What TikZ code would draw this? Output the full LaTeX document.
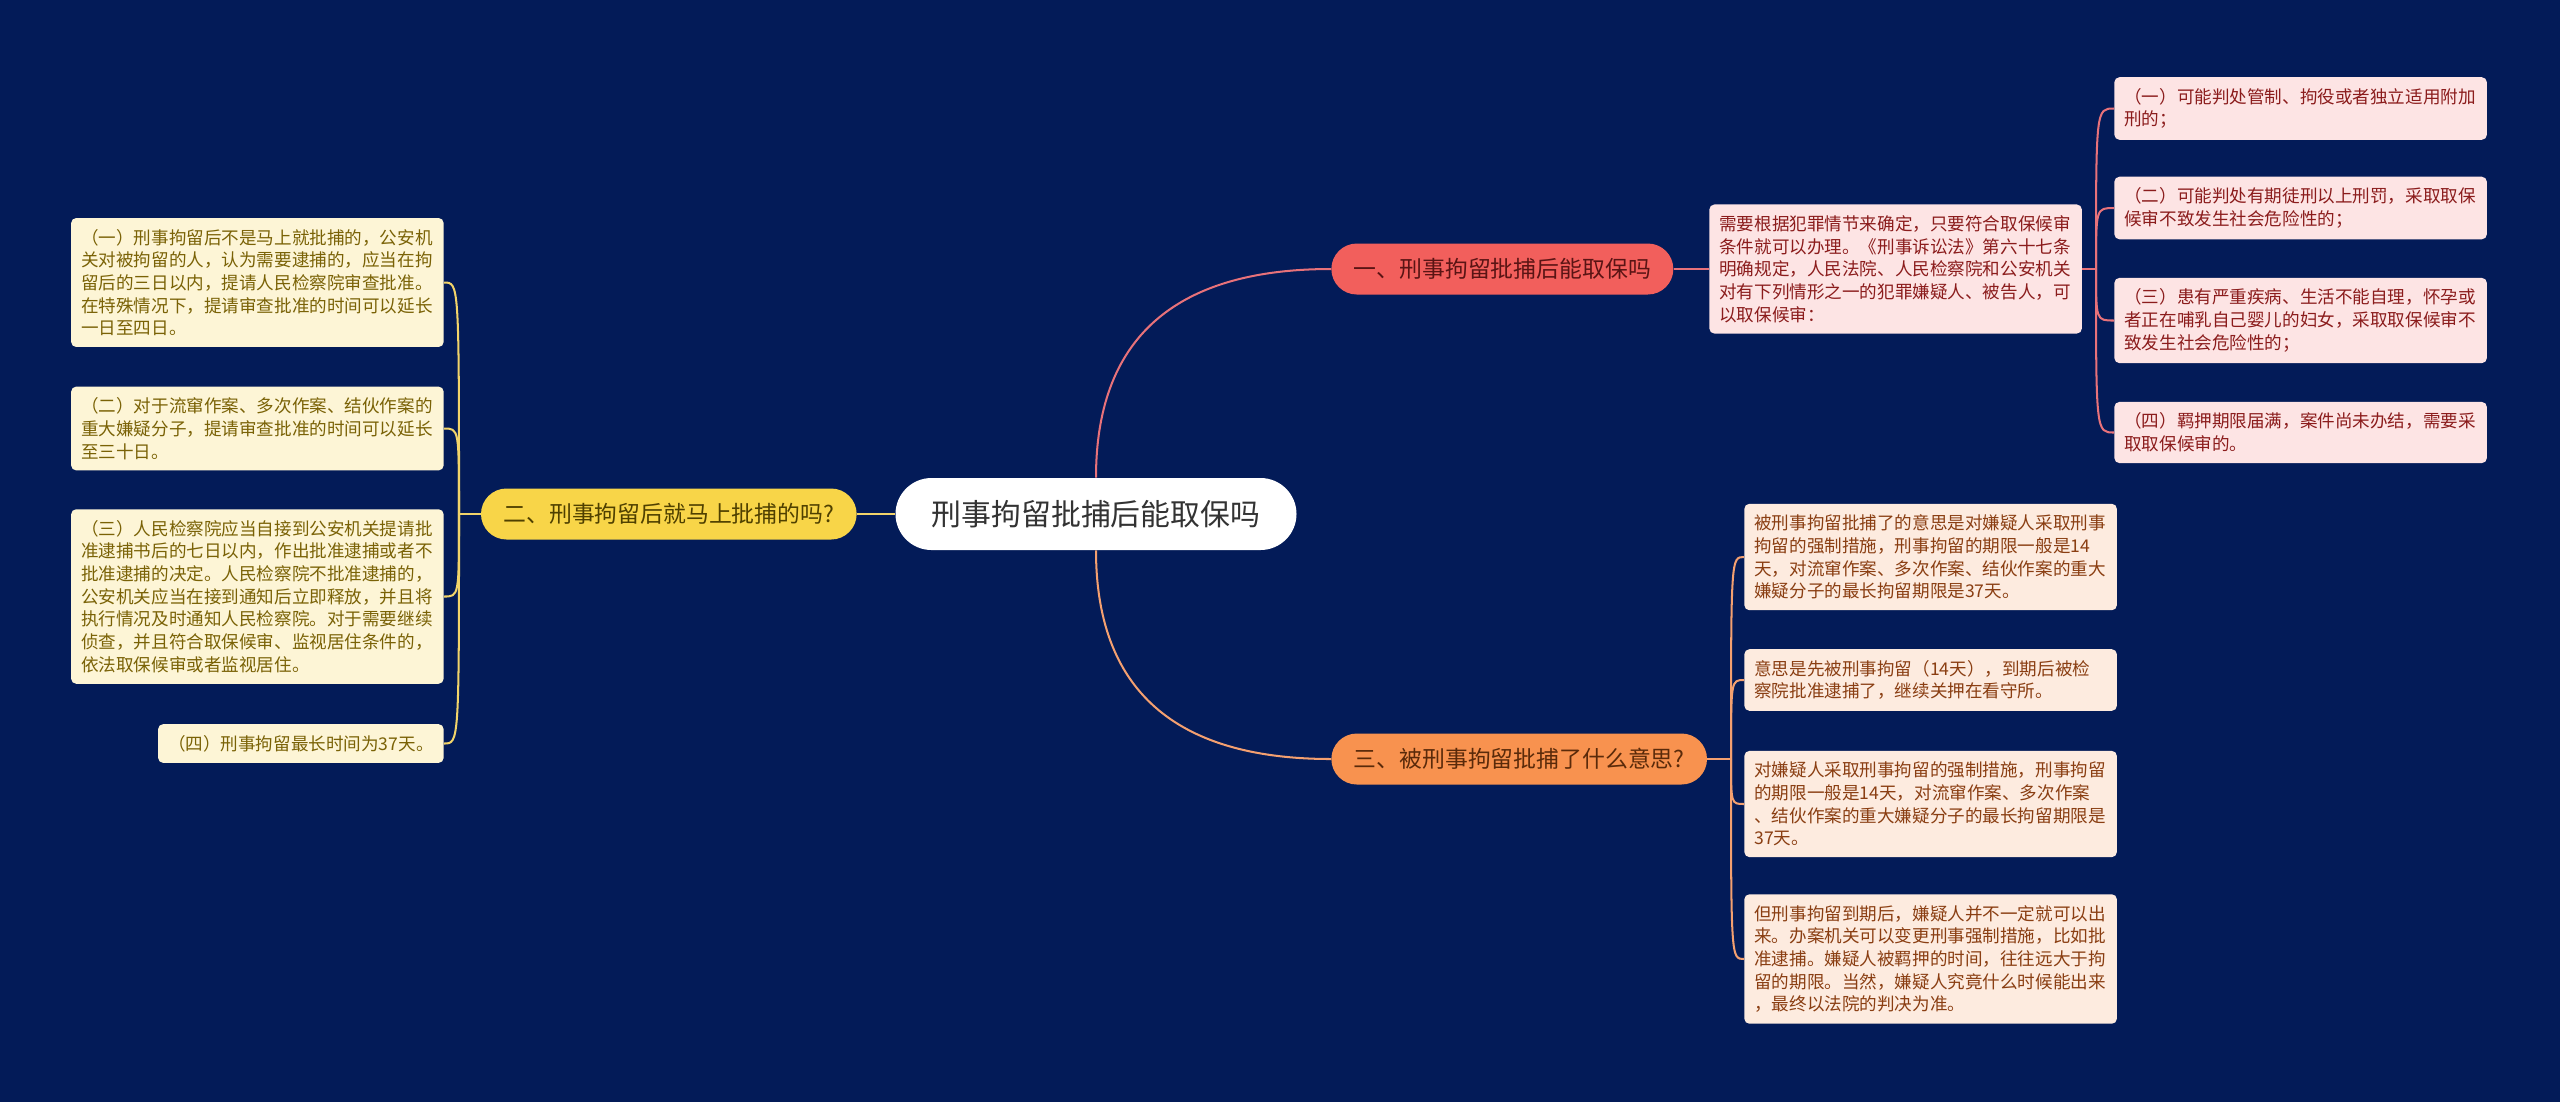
\documentclass[tikz,border=0pt]{standalone}
\usepackage{fontspec}
\usepackage{xcolor}
\usepackage{tikz}
\usetikzlibrary{positioning,calc}
\newfontfamily\cjk{Noto Sans CJK SC}
\definecolor{bgnavy}{HTML}{031B58}
\definecolor{rootink}{HTML}{333333}
\definecolor{redfill}{HTML}{F25F5C}
\definecolor{redink}{HTML}{5A1414}
\definecolor{redleaf}{HTML}{FDE4E4}
\definecolor{redtext}{HTML}{8B1C1C}
\definecolor{redline}{HTML}{E8727A}
\definecolor{yelfill}{HTML}{F8D548}
\definecolor{yelink}{HTML}{4F4000}
\definecolor{yelleaf}{HTML}{FDF5D6}
\definecolor{yeltext}{HTML}{7A6206}
\definecolor{yelline}{HTML}{F2D46A}
\definecolor{orgfill}{HTML}{F8924F}
\definecolor{orgink}{HTML}{5A2A0A}
\definecolor{orgleaf}{HTML}{FDEBDF}
\definecolor{orgtext}{HTML}{8A3E12}
\definecolor{orgline}{HTML}{F4A070}
\tikzset{
  maproot/.style={fill=white, text=rootink, rounded corners=0.72cm, minimum width=8.02cm, minimum height=1.44cm, font=\cjk\fontsize{17pt}{20pt}\selectfont},
  mapbranch/.style={rounded corners=0.51cm, minimum height=1.02cm, inner xsep=0.45cm, font=\cjk\fontsize{13pt}{15pt}\selectfont},
  mapleaf/.style={rounded corners=0.1cm, text width=7.05cm, inner xsep=0.2cm, inner ysep=0.22cm, align=left, font=\cjk\fontsize{10pt}{12.9pt}\selectfont},
  maplink/.style={line width=1.15pt}
}
\begin{document}
\begin{tikzpicture}
\fill[bgnavy] (0,0) rectangle (51.2,-22.04);
\useasboundingbox (0,0) rectangle (51.2,-22.04);
% centre and main branches
\node[maproot] (root) at (21.92,-10.28) {刑事拘留批捕后能取保吗};
\node[mapbranch, fill=redfill, text=redink, anchor=west] (br1) at (26.62,-5.38) {一、刑事拘留批捕后能取保吗};
\node[mapbranch, fill=yelfill, text=yelink, anchor=east] (br2) at (17.14,-10.28) {二、刑事拘留后就马上批捕的吗?};
\node[mapbranch, fill=orgfill, text=orgink, anchor=west] (br3) at (26.62,-15.18) {三、被刑事拘留批捕了什么意思?};
% branch one
\node[mapleaf, fill=redleaf, text=redtext, anchor=west] (atext) at (34.18,-5.38) {需要根据犯罪情节来确定，只要符合取保候审\\条件就可以办理。《刑事诉讼法》第六十七条\\明确规定，人民法院、人民检察院和公安机关\\对有下列情形之一的犯罪嫌疑人、被告人，可\\以取保候审：};
\node[mapleaf, fill=redleaf, text=redtext, anchor=west] (a1) at (42.28,-2.17) {（一）可能判处管制、拘役或者独立适用附加\\刑的；};
\node[mapleaf, fill=redleaf, text=redtext, anchor=west] (a2) at (42.28,-4.16) {（二）可能判处有期徒刑以上刑罚，采取取保\\候审不致发生社会危险性的；};
\node[mapleaf, fill=redleaf, text=redtext, anchor=west] (a3) at (42.28,-6.41) {（三）患有严重疾病、生活不能自理，怀孕或\\者正在哺乳自己婴儿的妇女，采取取保候审不\\致发生社会危险性的；};
\node[mapleaf, fill=redleaf, text=redtext, anchor=west] (a4) at (42.28,-8.65) {（四）羁押期限届满，案件尚未办结，需要采\\取取保候审的。};
% branch two
\node[mapleaf, fill=yelleaf, text=yeltext, anchor=east] (b1) at (8.88,-5.65) {（一）刑事拘留后不是马上就批捕的，公安机\\关对被拘留的人，认为需要逮捕的，应当在拘\\留后的三日以内，提请人民检察院审查批准。\\在特殊情况下，提请审查批准的时间可以延长\\一日至四日。};
\node[mapleaf, fill=yelleaf, text=yeltext, anchor=east] (b2) at (8.88,-8.57) {（二）对于流窜作案、多次作案、结伙作案的\\重大嫌疑分子，提请审查批准的时间可以延长\\至三十日。};
\node[mapleaf, fill=yelleaf, text=yeltext, anchor=east] (b3) at (8.88,-11.93) {（三）人民检察院应当自接到公安机关提请批\\准逮捕书后的七日以内，作出批准逮捕或者不\\批准逮捕的决定。人民检察院不批准逮捕的，\\公安机关应当在接到通知后立即释放，并且将\\执行情况及时通知人民检察院。对于需要继续\\侦查，并且符合取保候审、监视居住条件的，\\依法取保候审或者监视居住。};
\node[mapleaf, fill=yelleaf, text=yeltext, anchor=east, text width=] (b4) at (8.88,-14.87) {（四）刑事拘留最长时间为37天。};
% branch three
\node[mapleaf, fill=orgleaf, text=orgtext, anchor=west] (c1) at (34.88,-11.14) {被刑事拘留批捕了的意思是对嫌疑人采取刑事\\拘留的强制措施，刑事拘留的期限一般是14\\天，对流窜作案、多次作案、结伙作案的重大\\嫌疑分子的最长拘留期限是37天。};
\node[mapleaf, fill=orgleaf, text=orgtext, anchor=west] (c2) at (34.88,-13.6) {意思是先被刑事拘留（14天），到期后被检\\察院批准逮捕了，继续关押在看守所。};
\node[mapleaf, fill=orgleaf, text=orgtext, anchor=west] (c3) at (34.88,-16.08) {对嫌疑人采取刑事拘留的强制措施，刑事拘留\\的期限一般是14天，对流窜作案、多次作案\\、结伙作案的重大嫌疑分子的最长拘留期限是\\37天。};
\node[mapleaf, fill=orgleaf, text=orgtext, anchor=west] (c4) at (34.88,-19.18) {但刑事拘留到期后，嫌疑人并不一定就可以出\\来。办案机关可以变更刑事强制措施，比如批\\准逮捕。嫌疑人被羁押的时间，往往远大于拘\\留的期限。当然，嫌疑人究竟什么时候能出来\\，最终以法院的判决为准。};
% joints
\coordinate (ajoin) at (41.92,-5.38);
\coordinate (bjoin) at (9.18,-10.28);
\coordinate (cjoin) at (34.62,-15.18);
% connectors
\draw[maplink, redline] (root.north) to[out=90, in=180, looseness=1.2] (br1.west);
\draw[maplink, orgline] (root.south) to[out=-90, in=180, looseness=1.2] (br3.west);
\draw[maplink, yelline] (root.west) -- (br2.east);
\draw[maplink, redline] (br1.east) -- (atext.west);
\draw[maplink, redline] (atext.east) -- (ajoin);
\foreach \n in {a1,a2,a3,a4} {
  \draw[maplink, redline] (ajoin) .. controls (ajoin |- \n.west) .. (\n.west);
}
\draw[maplink, yelline] (br2.west) -- (bjoin);
\foreach \n in {b1,b2,b3,b4} {
  \draw[maplink, yelline] (bjoin) .. controls (bjoin |- \n.east) .. (\n.east);
}
\draw[maplink, orgline] (br3.east) -- (cjoin);
\foreach \n in {c1,c2,c3,c4} {
  \draw[maplink, orgline] (cjoin) .. controls (cjoin |- \n.west) .. (\n.west);
}
\end{tikzpicture}
\end{document}
